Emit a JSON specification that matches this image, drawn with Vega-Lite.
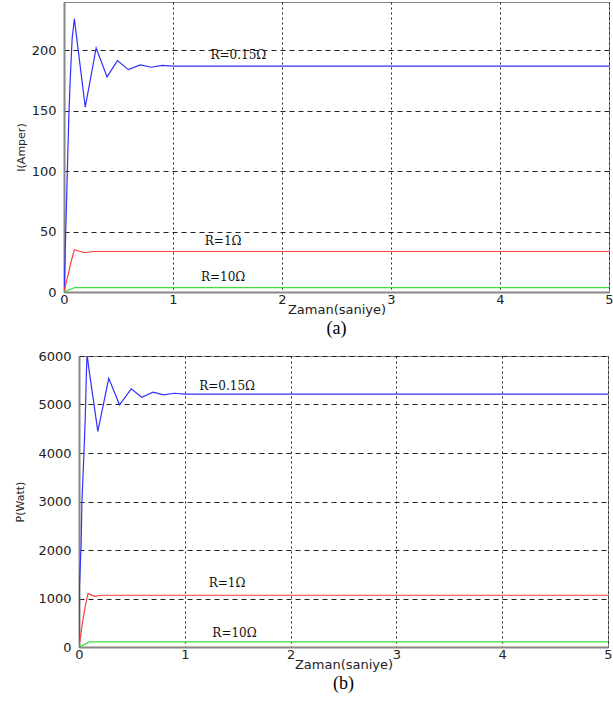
{
  "$schema": "https://vega.github.io/schema/vega-lite/v6.json",
  "padding": {"left": 13, "top": 1, "right": 4, "bottom": 0},
  "background": "white",
  "spacing": 10,
  "config": {
    "view": {"stroke": "#888", "strokeWidth": 1},
    "axis": {
      "labelFont": "DejaVu Sans", "labelFontSize": 13, "labelColor": "#222",
      "titleFont": "DejaVu Sans", "titleFontWeight": "normal", "titleColor": "#222",
      "domainColor": "#888", "domainWidth": 2, "ticks": false, "format": "d",
      "gridColor": "#222", "gridOpacity": 1, "gridWidth": 1
    },
    "axisX": {"gridDash": [2, 3], "titleFontSize": 13},
    "axisY": {"gridDash": [5, 4], "titleFontSize": 11}
  },
  "datasets": {
    "I": [
      {"s": "R=0.15", "t": 0, "v": 0}, {"s": "R=0.15", "t": 0.008, "v": 20}, {"s": "R=0.15", "t": 0.015, "v": 48},
      {"s": "R=0.15", "t": 0.025, "v": 80}, {"s": "R=0.15", "t": 0.035, "v": 115}, {"s": "R=0.15", "t": 0.045, "v": 147},
      {"s": "R=0.15", "t": 0.058, "v": 178}, {"s": "R=0.15", "t": 0.075, "v": 210}, {"s": "R=0.15", "t": 0.095, "v": 226},
      {"s": "R=0.15", "t": 0.195, "v": 153}, {"s": "R=0.15", "t": 0.295, "v": 202}, {"s": "R=0.15", "t": 0.395, "v": 178},
      {"s": "R=0.15", "t": 0.49, "v": 191.5}, {"s": "R=0.15", "t": 0.59, "v": 184}, {"s": "R=0.15", "t": 0.7, "v": 188},
      {"s": "R=0.15", "t": 0.8, "v": 186}, {"s": "R=0.15", "t": 0.9, "v": 187.5}, {"s": "R=0.15", "t": 1.0, "v": 187},
      {"s": "R=0.15", "t": 5, "v": 187},
      {"s": "R=1", "t": 0, "v": 0}, {"s": "R=1", "t": 0.02, "v": 8}, {"s": "R=1", "t": 0.04, "v": 15},
      {"s": "R=1", "t": 0.06, "v": 23}, {"s": "R=1", "t": 0.08, "v": 30}, {"s": "R=1", "t": 0.095, "v": 35},
      {"s": "R=1", "t": 0.19, "v": 32.5}, {"s": "R=1", "t": 0.26, "v": 33.5}, {"s": "R=1", "t": 5, "v": 33.5},
      {"s": "R=10", "t": 0, "v": 0}, {"s": "R=10", "t": 0.1, "v": 3.7}, {"s": "R=10", "t": 5, "v": 3.7}
    ],
    "IL": [
      {"label": "R=0.15Ω", "t": 1.6, "v": 196},
      {"label": "R=1Ω", "t": 1.46, "v": 42},
      {"label": "R=10Ω", "t": 1.46, "v": 12.5}
    ],
    "P": [
      {"s": "R=0.15", "t": 0, "v": 0}, {"s": "R=0.15", "t": 0.004, "v": 1250}, {"s": "R=0.15", "t": 0.02, "v": 2100},
      {"s": "R=0.15", "t": 0.027, "v": 2965}, {"s": "R=0.15", "t": 0.043, "v": 3790}, {"s": "R=0.15", "t": 0.059, "v": 4700},
      {"s": "R=0.15", "t": 0.069, "v": 5590}, {"s": "R=0.15", "t": 0.076, "v": 6050}, {"s": "R=0.15", "t": 0.09, "v": 5790},
      {"s": "R=0.15", "t": 0.178, "v": 4446}, {"s": "R=0.15", "t": 0.281, "v": 5540}, {"s": "R=0.15", "t": 0.383, "v": 4994},
      {"s": "R=0.15", "t": 0.494, "v": 5322}, {"s": "R=0.15", "t": 0.593, "v": 5150}, {"s": "R=0.15", "t": 0.7, "v": 5253},
      {"s": "R=0.15", "t": 0.8, "v": 5199}, {"s": "R=0.15", "t": 0.9, "v": 5232}, {"s": "R=0.15", "t": 1.0, "v": 5215},
      {"s": "R=0.15", "t": 5, "v": 5215},
      {"s": "R=1", "t": 0, "v": 0}, {"s": "R=1", "t": 0.02, "v": 300}, {"s": "R=1", "t": 0.04, "v": 600},
      {"s": "R=1", "t": 0.06, "v": 850}, {"s": "R=1", "t": 0.085, "v": 1100}, {"s": "R=1", "t": 0.15, "v": 1045},
      {"s": "R=1", "t": 0.22, "v": 1067}, {"s": "R=1", "t": 5, "v": 1067},
      {"s": "R=10", "t": 0, "v": 0}, {"s": "R=10", "t": 0.1, "v": 105}, {"s": "R=10", "t": 5, "v": 105}
    ],
    "PL": [
      {"label": "R=0.15Ω", "t": 1.4, "v": 5390},
      {"label": "R=1Ω", "t": 1.4, "v": 1324},
      {"label": "R=10Ω", "t": 1.47, "v": 292}
    ],
    "empty": [{"k": 0}]
  },
  "vconcat": [
    {
      "spacing": 0,
      "hconcat": [
        {
          "width": 1, "height": 1, "view": {"stroke": null},
          "data": {"name": "empty"},
          "mark": {"type": "point", "opacity": 0, "size": 1},
          "encoding": {}
        },
        {
          "width": 545, "height": 290,
          "title": {"text": "(a)", "orient": "bottom", "font": "Liberation Serif", "fontSize": 18, "fontWeight": "normal", "color": "#000", "offset": 4},
          "layer": [
            {
              "data": {"name": "I"},
              "mark": {"type": "line", "strokeWidth": 1.2, "clip": true},
              "encoding": {
                "x": {"field": "t", "type": "quantitative", "scale": {"domain": [0, 5], "nice": false},
                      "axis": {"values": [0, 1, 2, 3, 4, 5], "title": "Zaman(saniye)", "titlePadding": -3, "labelPadding": 1, "labelFlush": false}},
                "y": {"field": "v", "type": "quantitative", "scale": {"domain": [0, 240], "nice": false},
                      "axis": {"values": [0, 50, 100, 150, 200], "title": "I(Amper)", "titlePadding": 5, "labelPadding": 8}},
                "color": {"field": "s", "type": "nominal", "scale": {"domain": ["R=0.15", "R=1", "R=10"], "range": ["#3030ff", "#ff3c3c", "#3cdc3c"]}, "legend": null}
              }
            },
            {
              "data": {"name": "IL"},
              "mark": {"type": "text", "font": "DejaVu Serif", "fontSize": 12, "color": "#111", "align": "center", "baseline": "middle"},
              "encoding": {
                "x": {"field": "t", "type": "quantitative"},
                "y": {"field": "v", "type": "quantitative"},
                "text": {"field": "label"}
              }
            }
          ]
        }
      ]
    },
    {
      "spacing": 0,
      "hconcat": [
        {
          "width": 1, "height": 1, "view": {"stroke": null},
          "data": {"name": "empty"},
          "mark": {"type": "point", "opacity": 0, "size": 1},
          "encoding": {}
        },
        {
          "width": 529, "height": 291,
          "title": {"text": "(b)", "orient": "bottom", "font": "Liberation Serif", "fontSize": 18, "fontWeight": "normal", "color": "#000", "offset": 4},
          "layer": [
            {
              "data": {"name": "P"},
              "mark": {"type": "line", "strokeWidth": 1.2, "clip": true},
              "encoding": {
                "x": {"field": "t", "type": "quantitative", "scale": {"domain": [0, 5], "nice": false},
                      "axis": {"values": [0, 1, 2, 3, 4, 5], "title": "Zaman(saniye)", "titlePadding": -3, "labelPadding": 1, "labelFlush": false}},
                "y": {"field": "v", "type": "quantitative", "scale": {"domain": [0, 6000], "nice": false},
                      "axis": {"values": [0, 1000, 2000, 3000, 4000, 5000, 6000], "title": "P(Watt)", "titlePadding": 12, "labelPadding": 8}},
                "color": {"field": "s", "type": "nominal", "scale": {"domain": ["R=0.15", "R=1", "R=10"], "range": ["#3030ff", "#ff3c3c", "#3cdc3c"]}, "legend": null}
              }
            },
            {
              "data": {"name": "PL"},
              "mark": {"type": "text", "font": "DejaVu Serif", "fontSize": 12, "color": "#111", "align": "center", "baseline": "middle"},
              "encoding": {
                "x": {"field": "t", "type": "quantitative"},
                "y": {"field": "v", "type": "quantitative"},
                "text": {"field": "label"}
              }
            }
          ]
        }
      ]
    }
  ]
}
